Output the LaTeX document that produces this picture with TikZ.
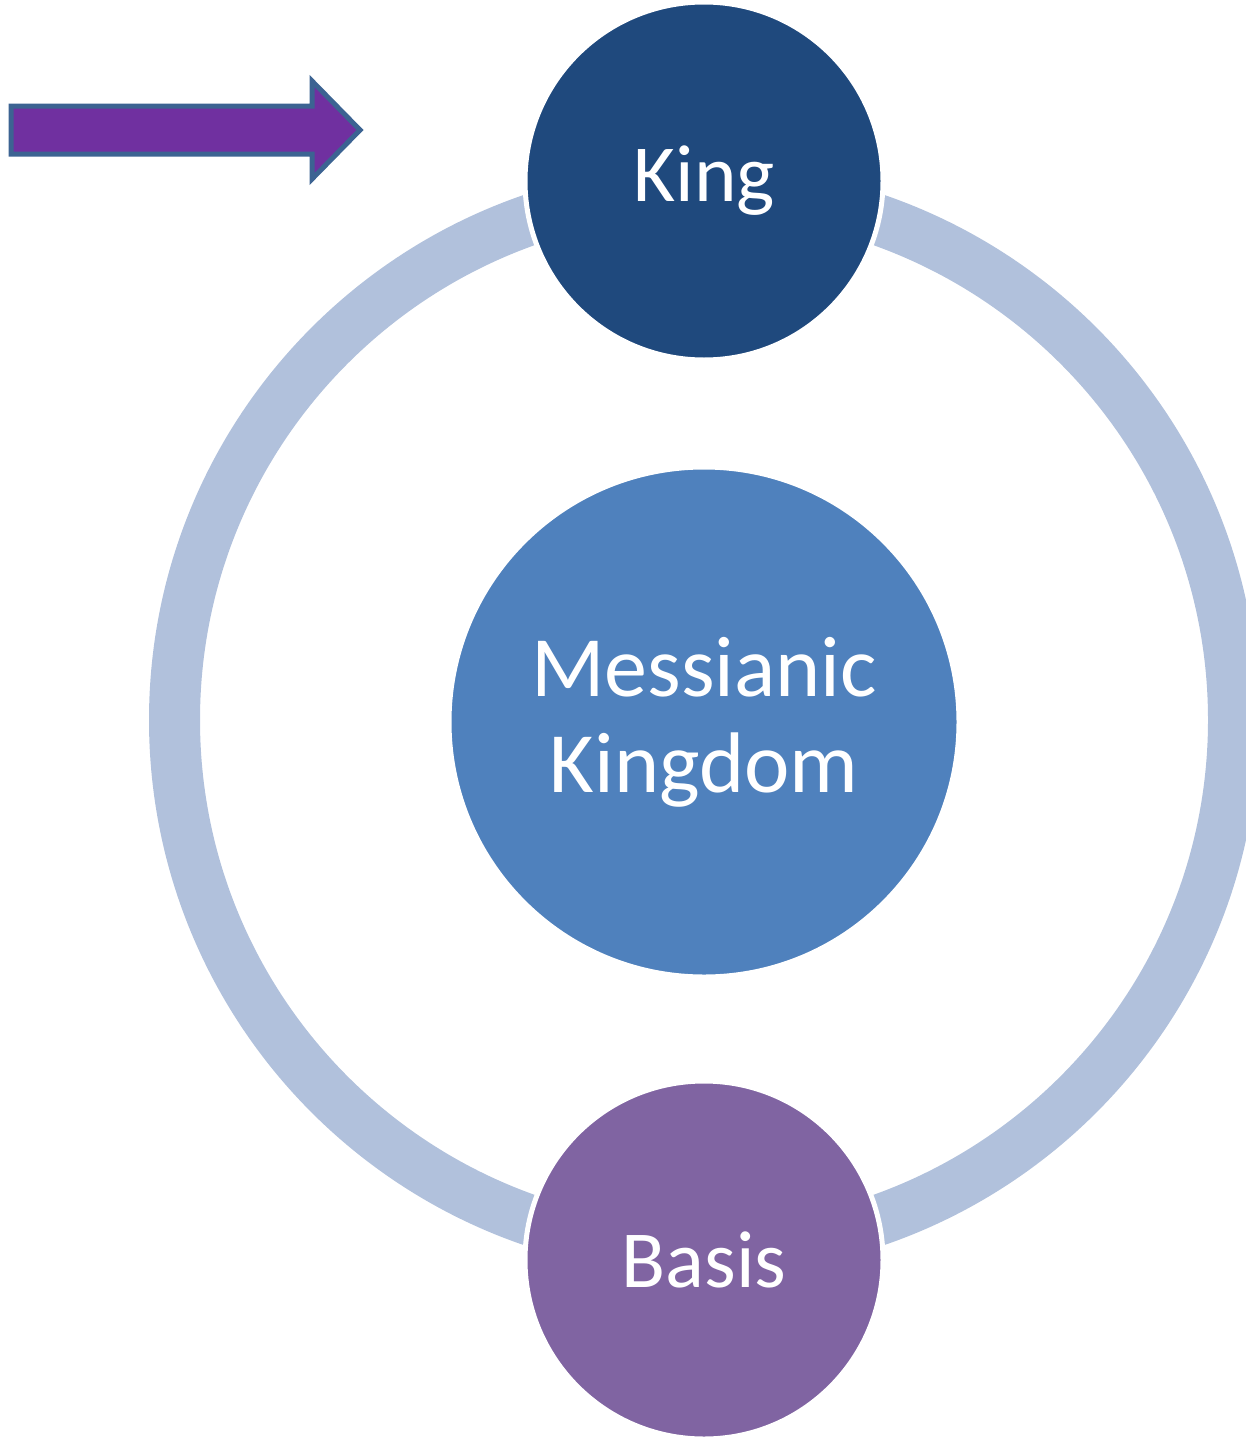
\documentclass[tikz,border=0pt]{standalone}
\usepackage{fontspec}
\setmainfont{Carlito}
\definecolor{ringc}{HTML}{B1C1DC}
\definecolor{kingc}{HTML}{1F497D}
\definecolor{midc}{HTML}{4F81BD}
\definecolor{basisc}{HTML}{8064A2}
\definecolor{arrowfill}{HTML}{7030A0}
\definecolor{arrowline}{HTML}{3C6392}
\begin{document}
\begin{tikzpicture}[x=1pt,y=-1pt,
  bubble/.style={circle, draw=white, line width=5pt, text=white, inner sep=0pt, align=center,
    font=\fontsize{81}{95}\selectfont}]
\useasboundingbox (0,0) rectangle (1246,1440);
\clip (0,0) rectangle (1246,1440);
\draw[ringc, line width=51pt] (704,720) circle[radius=529.5];
\node[bubble, fill=midc, minimum size=510pt, font=\fontsize{86}{96}\selectfont] (mk) at (704,722) {Messianic\\Kingdom};
\node[bubble, fill=kingc, minimum size=358pt] (king) at (704,181) {King};
\node[bubble, fill=basisc, minimum size=358pt] (basis) at (704,1260) {Basis};
\draw[fill=arrowfill, draw=arrowline, line width=5pt, line join=miter]
  (11,106) -- (312,106) -- (312,81) -- (360,130) -- (312,179) -- (312,154) -- (11,154) -- cycle;
\end{tikzpicture}
\end{document}
